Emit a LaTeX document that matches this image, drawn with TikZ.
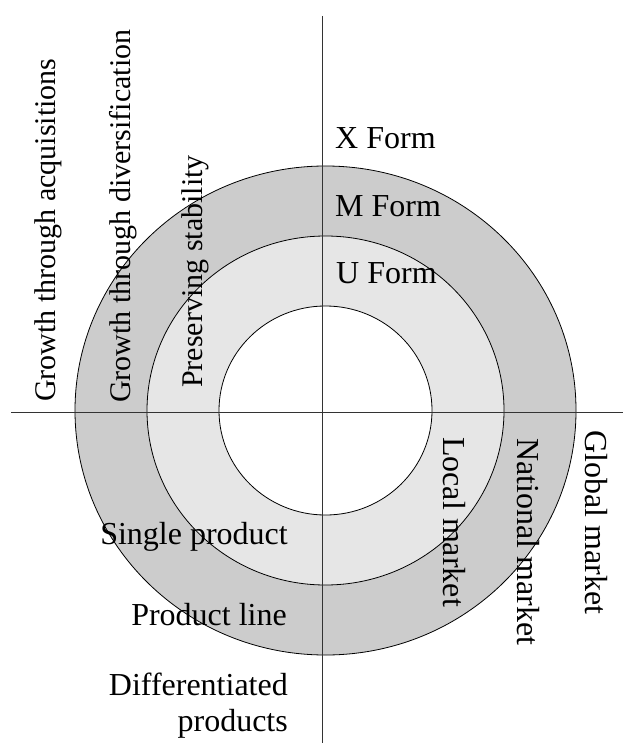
\documentclass[tikz,border=0pt]{standalone}
\usepackage{fontspec}
\setmainfont{Liberation Serif}
\definecolor{outerfill}{HTML}{CCCCCC}
\definecolor{midfill}{HTML}{E6E6E6}
\begin{document}
\begin{tikzpicture}[x=1pt,y=-1pt,
  ring/.style={draw=black,line width=0.8pt},
  axis/.style={draw=black!80,line width=1pt},
  hlabel/.style={inner sep=0pt,font=\fontsize{32}{36}\selectfont},
  llabel/.style={inner sep=0pt,rotate=90,anchor=base west,font=\fontsize{30}{34}\selectfont},
  rlabel/.style={inner sep=0pt,rotate=-90,anchor=base west,font=\fontsize{32}{36}\selectfont}]
\useasboundingbox (0,0) rectangle (623,743);
\coordinate (c) at (325.5,410.5);
\draw[ring,fill=outerfill] (c) ellipse [x radius=250.5pt, y radius=244.5pt];
\draw[ring,fill=midfill] (c) ellipse [x radius=178.5pt, y radius=174.5pt];
\draw[ring,fill=white] (c) ellipse [x radius=106.5pt, y radius=104.5pt];
\coordinate (vtop) at (322,16);
\coordinate (vbot) at (322,743);
\coordinate (hl) at (11,412.5);
\coordinate (hr) at (623,412.5);
\draw[axis] (vtop) -- (vbot);
\draw[axis] (hl) -- (hr);
\node[hlabel,anchor=base west] (xform) at (335,149) {X Form};
\node[hlabel,anchor=base west] (mform) at (335,216) {M Form};
\node[hlabel,anchor=base west] (uform) at (336,283) {U Form};
\node[hlabel,anchor=base east] (single) at (288,544) {Single product};
\node[hlabel,anchor=base east] (pline) at (287,625) {Product line};
\node[hlabel,anchor=north east,align=right] (diff) at (288,673) {Differentiated\\products};
\node[llabel] (acq) at (55,402) {Growth through acquisitions};
\node[llabel] (div) at (130,403) {Growth through diversification};
\node[llabel] (stab) at (202,388) {Preserving stability};
\node[rlabel] (local) at (443,437) {Local market};
\node[rlabel] (national) at (517,438) {National market};
\node[rlabel] (global) at (585,430) {Global market};
\end{tikzpicture}
\end{document}
